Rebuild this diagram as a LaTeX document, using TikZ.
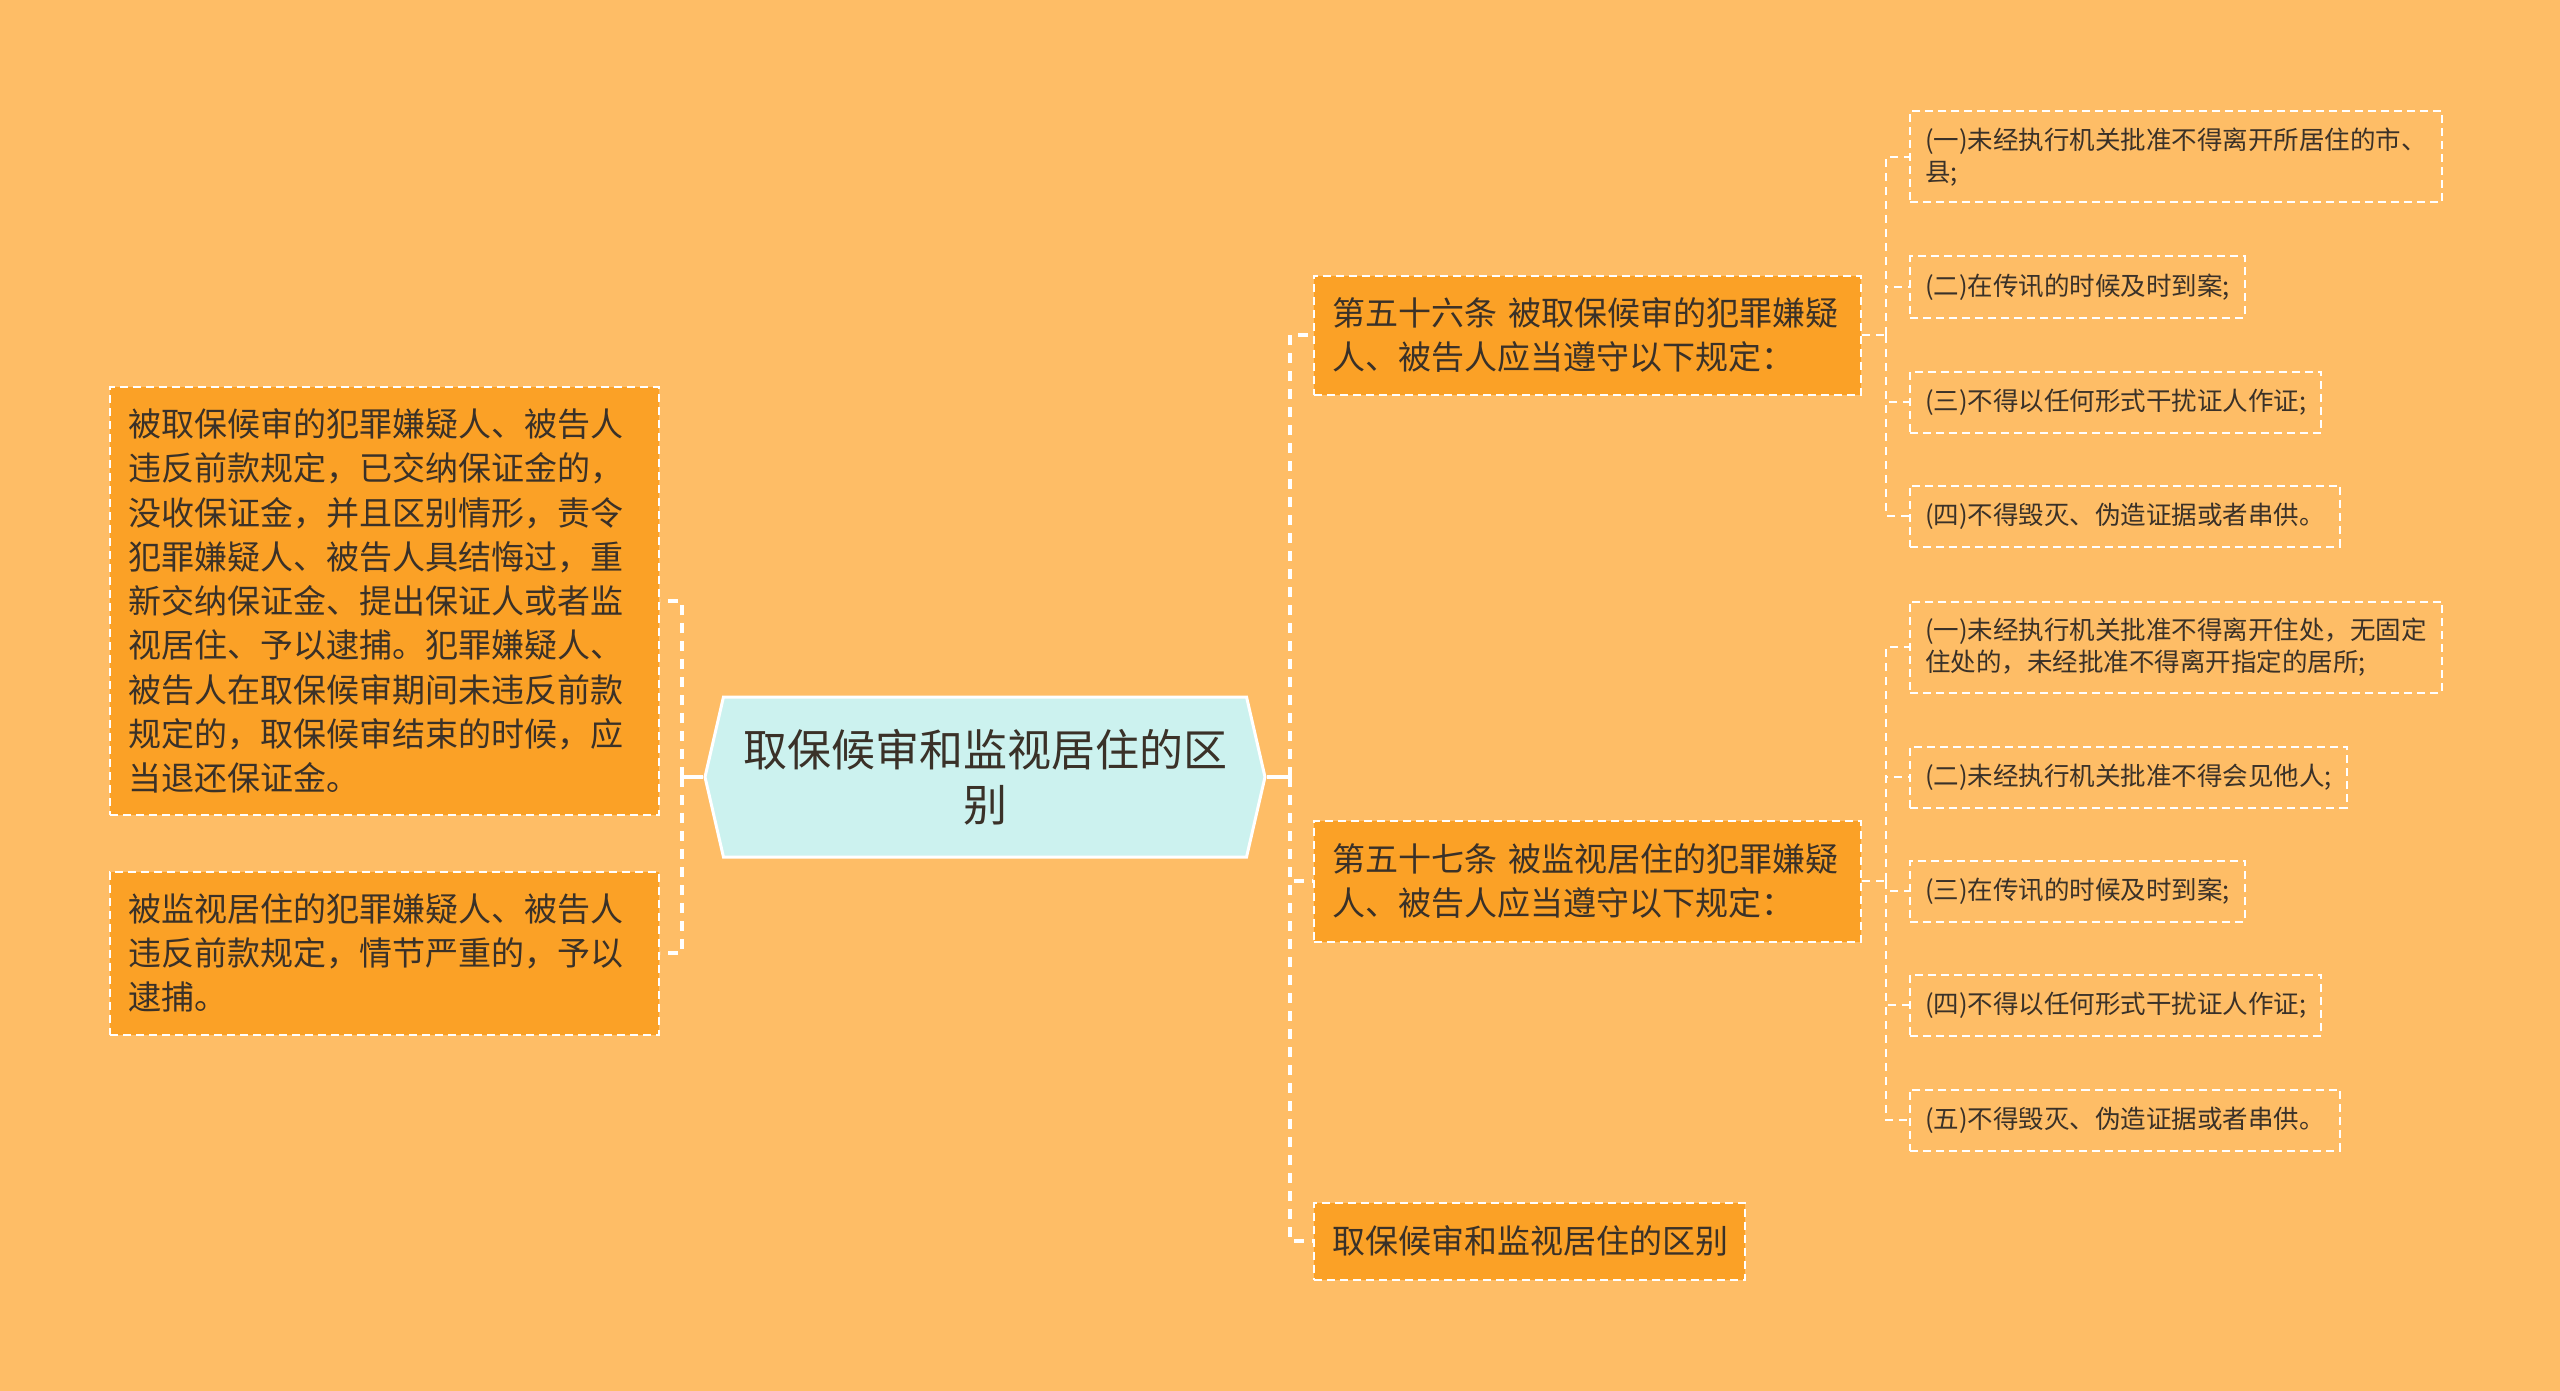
\documentclass[tikz,border=0pt]{standalone}
\usepackage{fontspec}
\setmainfont{Noto Sans CJK SC}
\usepackage{tikz}
\usetikzlibrary{calc}
\usetikzlibrary{shapes}
\usetikzlibrary{shapes.symbols}
\definecolor{bgorange}{HTML}{FEBD66}
\definecolor{boxorange}{HTML}{FBA126}
\definecolor{hubcyan}{HTML}{CCF2EF}
\definecolor{inkdark}{HTML}{3A3128}
\tikzset{
  link/.style = {draw=white, line width=4pt, dash pattern=on 10pt off 8pt},
  twig/.style = {draw=white, line width=2pt, dash pattern=on 8pt off 6pt},
  stem/.style = {draw=white, line width=4pt},
  topic/.style = {rectangle, anchor=west, fill=boxorange, draw=white, line width=2pt,
    dash pattern=on 8pt off 5pt, text=inkdark, align=left, inner xsep=18pt,
    font=\fontsize{33}{44.3}\selectfont},
  leaf/.style = {rectangle, anchor=west, draw=white, line width=2pt,
    dash pattern=on 8pt off 5pt, text=inkdark, align=left, inner xsep=15pt,
    minimum height=61pt, font=\fontsize{25.5}{32.7}\selectfont},
  hub/.style = {signal, signal to=west and east, signal pointer angle=154,
    fill=hubcyan, draw=white, line width=3pt, text=inkdark, align=center,
    minimum width=560pt, minimum height=160pt, font=\fontsize{44}{55.5}\selectfont}
}

\begin{document}
\begin{tikzpicture}[x=1pt, y=-1pt]
\fill [bgorange] (0,0) rectangle (2560,1391);
\useasboundingbox (0,0) rectangle (2560,1391);

\node [hub] (hub) at (985,777) {取保候审和监视居住的区\\别};

\node [topic, text width=513pt, minimum height=428pt] (lb1) at (109,601) {被取保候审的犯罪嫌疑人、被告人\\违反前款规定，已交纳保证金的，\\没收保证金，并且区别情形，责令\\犯罪嫌疑人、被告人具结悔过，重\\新交纳保证金、提出保证人或者监\\视居住、予以逮捕。犯罪嫌疑人、\\被告人在取保候审期间未违反前款\\规定的，取保候审结束的时候，应\\当退还保证金。};
\node [topic, text width=513pt, minimum height=163pt] (lb2) at (109,953) {被监视居住的犯罪嫌疑人、被告人\\违反前款规定，情节严重的，予以\\逮捕。};

\node [topic, text width=511pt, minimum height=119pt] (r1) at (1313,335) {第五十六条 被取保候审的犯罪嫌疑\\人、被告人应当遵守以下规定：};
\node [topic, text width=511pt, minimum height=121pt] (r2) at (1313,881) {第五十七条 被监视居住的犯罪嫌疑\\人、被告人应当遵守以下规定：};
\node [topic, text width=395pt, minimum height=77pt] (r3) at (1313,1241) {取保候审和监视居住的区别};

\node [leaf, minimum height=91pt] (a1) at (1909,157) {(一)未经执行机关批准不得离开所居住的市、\\县;};
\node [leaf] (a2) at (1909,287) {(二)在传讯的时候及时到案;};
\node [leaf] (a3) at (1909,402) {(三)不得以任何形式干扰证人作证;};
\node [leaf] (a4) at (1909,516) {(四)不得毁灭、伪造证据或者串供。};

\node [leaf, minimum height=91pt] (b1) at (1909,647) {(一)未经执行机关批准不得离开住处，无固定\\住处的，未经批准不得离开指定的居所;};
\node [leaf] (b2) at (1909,777) {(二)未经执行机关批准不得会见他人;};
\node [leaf] (b3) at (1909,891) {(三)在传讯的时候及时到案;};
\node [leaf] (b4) at (1909,1005) {(四)不得以任何形式干扰证人作证;};
\node [leaf] (b5) at (1909,1120) {(五)不得毁灭、伪造证据或者串供。};

\coordinate (lsp) at (682,777);
\coordinate (rsp) at (1290,777);
\coordinate (asp) at (1886,335);
\coordinate (bsp) at (1886,881);

\draw [stem] (hub.west) -- (lsp);
\draw [link] (lsp) |- (lb1.east);
\draw [link] (lsp) |- (lb2.east);
\draw [stem] (hub.east) -- (rsp);
\foreach \n in {r1,r2,r3}
  \draw [link] (rsp) |- (\n.west);
\draw [twig] (r1.east) -- (asp);
\foreach \n in {a1,a2,a3,a4}
  \draw [twig] (asp) |- (\n.west);
\draw [twig] (r2.east) -- (bsp);
\foreach \n in {b1,b2,b3,b4,b5}
  \draw [twig] (bsp) |- (\n.west);
\end{tikzpicture}
\end{document}
